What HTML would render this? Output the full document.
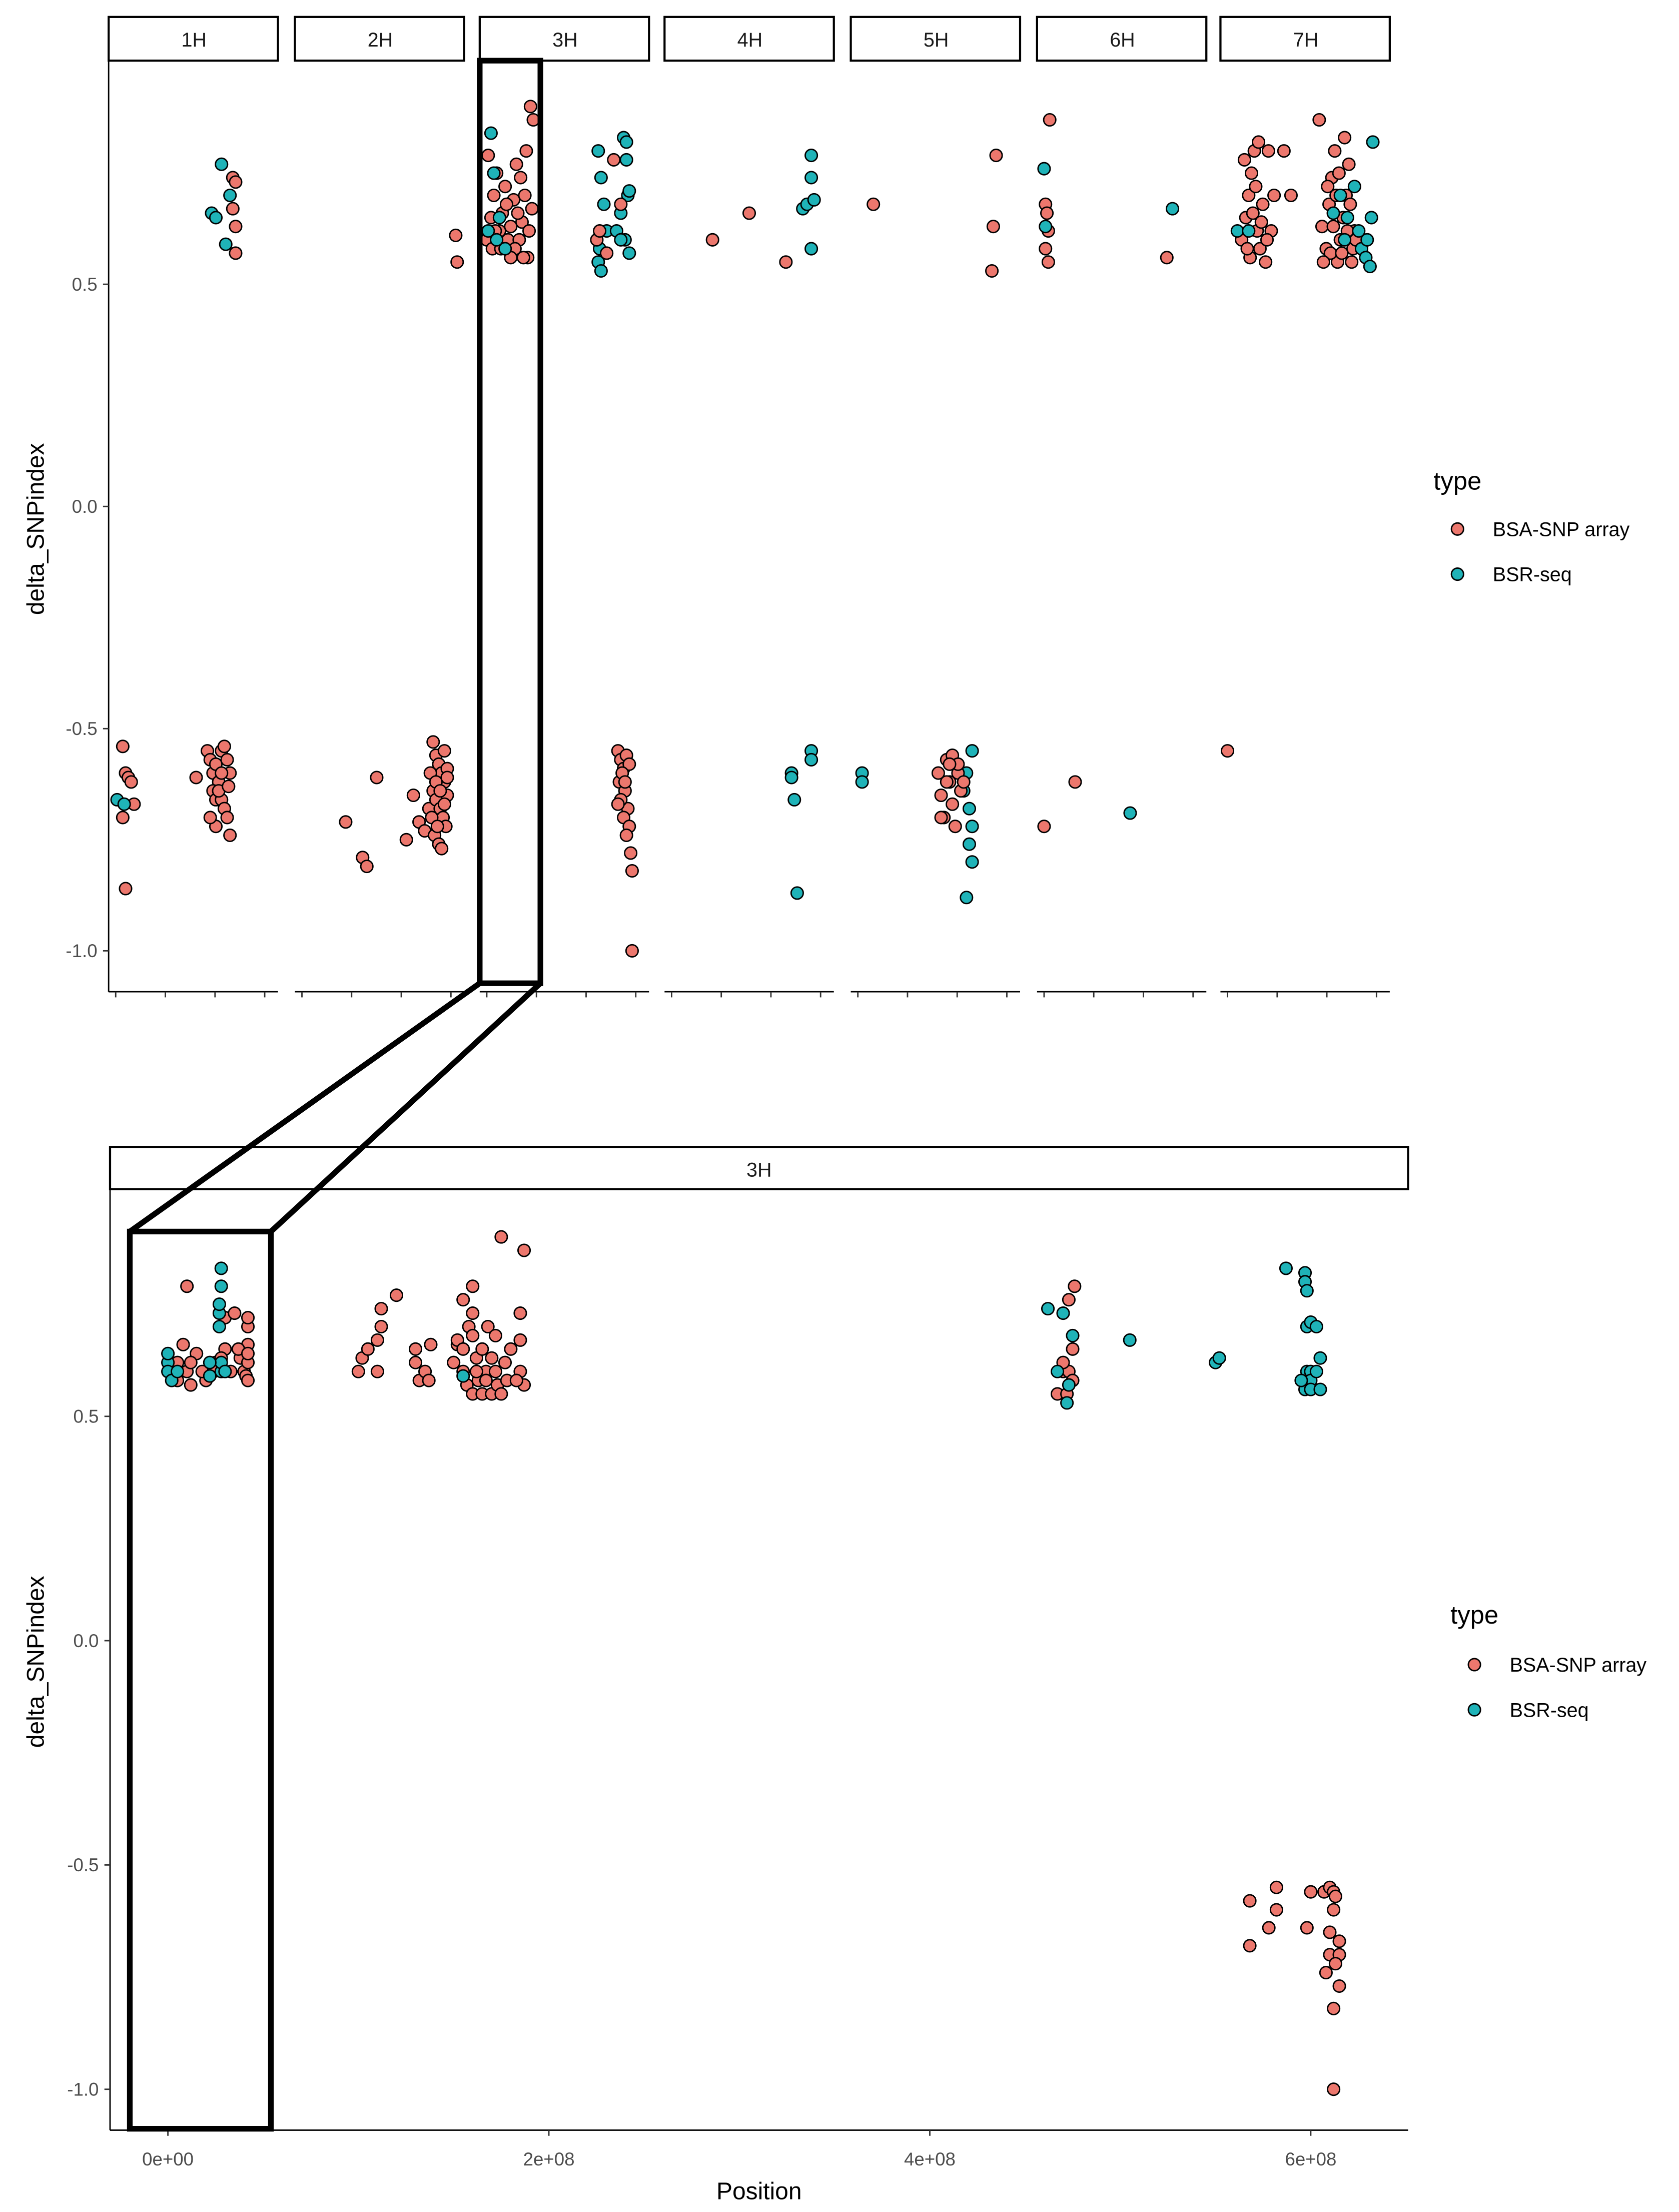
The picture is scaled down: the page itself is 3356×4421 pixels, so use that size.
<!DOCTYPE html>
<html><head><meta charset="utf-8">
<style>
html,body{margin:0;padding:0;background:#fff;}
svg{display:block;font-family:"Liberation Sans",sans-serif;}
</style></head>
<body>
<svg id="chart" width="3356" height="4421" viewBox="0 0 1190 1568" preserveAspectRatio="none" xmlns="http://www.w3.org/2000/svg">
<g id="top"></g>
<g id="bottom"></g>
<g id="overlay"></g>
</svg>
<script>
// ---- data ----
const chromosomes = ["1H","2H","3H","4H","5H","6H","7H"];
const typeLabels = ["BSA-SNP array","BSR-seq"];
const yTicks = [0.5,0.0,-0.5,-1.0];
const yTickLabels = ["0.5","0.0","-0.5","-1.0"];
const xTicksBottom = [0,2e8,4e8,6e8];
const xTickLabelsBottom = ["0e+00","2e+08","4e+08","6e+08"];
// top facets: [position index (0-120), delta, type 0=array 1=seq]
const top1H = [[10,-0.54,0],[12,-0.6,0],[14,-0.61,0],[16,-0.62,0],[18,-0.67,0],[10,-0.7,0],[12,-0.86,0],[6,-0.66,1],[11,-0.67,1],
[62,-0.61,0],[70,-0.55,0],[72,-0.57,0],[74,-0.6,0],[76,-0.58,0],[78,-0.62,0],[80,-0.55,0],[82,-0.54,0],[84,-0.57,0],[86,-0.6,0],[74,-0.64,0],[76,-0.66,0],[80,-0.66,0],[82,-0.68,0],[84,-0.7,0],[76,-0.72,0],[86,-0.74,0],[72,-0.7,0],[78,-0.64,0],[80,-0.6,0],[85,-0.63,0],
[88,0.74,0],[90,0.73,0],[88,0.67,0],[90,0.63,0],[90,0.57,0],[73,0.66,1],[76,0.65,1],[80,0.77,1],[86,0.7,1],[83,0.59,1]];
const top2H = [[36,-0.71,0],[48,-0.79,0],[51,-0.81,0],[58,-0.61,0],[79,-0.75,0],[84,-0.65,0],[88,-0.71,0],[92,-0.73,0],[95,-0.68,0],
[98,-0.53,0],[100,-0.56,0],[102,-0.58,0],[104,-0.6,0],[106,-0.62,0],[98,-0.64,0],[100,-0.66,0],[103,-0.68,0],[105,-0.7,0],[107,-0.72,0],[99,-0.74,0],[102,-0.76,0],[104,-0.77,0],[106,-0.55,0],[108,-0.59,0],[96,-0.6,0],[108,-0.65,0],[100,-0.62,0],[103,-0.64,0],[106,-0.67,0],[97,-0.7,0],[101,-0.72,0],[108,-0.61,0],[114,0.61,0],[115,0.55,0]];
const top3H = [[5,0.6,0],[8,0.65,0],[10,0.7,0],[12,0.75,0],[14,0.62,0],[6,0.79,0],[9,0.58,0],[16,0.66,0],[18,0.72,0],[20,0.6,0],[22,0.63,0],[24,0.69,0],[26,0.77,0],[28,0.6,0],[30,0.64,0],[32,0.7,0],[34,0.56,0],[36,0.9,0],[38,0.87,0],[33,0.8,0],[29,0.74,0],[25,0.58,0],[31,0.56,0],[35,0.62,0],[37,0.67,0],[22,0.56,0],[27,0.66,0],[15,0.58,0],[11,0.62,0],[19,0.68,0],
[8,0.84,1],[10,0.75,1],[6,0.62,1],[12,0.6,1],[14,0.65,1],[18,0.58,1],
[84,0.8,1],[86,0.74,1],[88,0.68,1],[90,0.62,1],[84,0.55,1],[85,0.58,1],[97,0.62,1],[100,0.66,1],[102,0.83,1],[104,0.82,1],[104,0.78,1],[105,0.7,1],[106,0.71,1],[103,0.6,1],[106,0.57,1],[100,0.6,1],[86,0.53,1],
[83,0.6,0],[85,0.62,0],[90,0.57,0],[95,0.78,0],[100,0.68,0],
[98,-0.55,0],[100,-0.57,0],[102,-0.59,0],[104,-0.56,0],[106,-0.58,0],[99,-0.62,0],[101,-0.6,0],[103,-0.64,0],[105,-0.68,0],[100,-0.66,0],[102,-0.7,0],[106,-0.72,0],[104,-0.74,0],[107,-0.78,0],[108,-0.82,0],[108,-1.0,0],[103,-0.62,0],[98,-0.67,0]];
const top4H = [[34,0.6,0],[60,0.66,0],[86,0.55,0],[90,-0.6,1],[92,-0.66,1],[94,-0.87,1],[104,-0.55,1],[104,-0.57,1],[98,0.67,1],[101,0.68,1],[104,0.58,1],[104,0.74,1],[104,0.79,1],[106,0.69,1],[90,-0.61,1]];
const top5H = [[8,-0.6,1],[8,-0.62,1],[86,-0.55,1],[82,-0.88,1],[86,-0.8,1],[84,-0.76,1],[86,-0.72,1],[84,-0.68,1],[80,-0.64,1],[82,-0.6,1],
[16,0.68,0],[62,-0.6,0],[64,-0.65,0],[66,-0.7,0],[68,-0.57,0],[70,-0.62,0],[72,-0.67,0],[74,-0.72,0],[76,-0.6,0],[78,-0.64,0],[72,-0.56,0],[76,-0.58,0],[64,-0.7,0],[68,-0.62,0],[80,-0.62,0],[70,-0.58,0],[103,0.79,0],[101,0.63,0],[100,0.53,0]];
const top6H = [[5,-0.72,0],[27,-0.62,0],[9,0.87,0],[6,0.68,0],[7,0.66,0],[8,0.62,0],[6,0.58,0],[8,0.55,0],[92,0.56,0],[5,0.76,1],[6,0.63,1],[66,-0.69,1],[96,0.67,1]];
const top7H = [[5,-0.55,0],[15,0.6,0],[18,0.65,0],[20,0.7,0],[22,0.75,0],[24,0.8,0],[26,0.62,0],[28,0.58,0],[30,0.68,0],[32,0.55,0],[34,0.8,0],[36,0.62,0],[38,0.7,0],[17,0.78,0],[21,0.56,0],[25,0.72,0],[29,0.64,0],[33,0.6,0],[23,0.66,0],[27,0.82,0],[19,0.58,0],[45,0.8,0],[50,0.7,0],[70,0.87,0],[72,0.63,0],[75,0.58,0],[77,0.68,0],[79,0.74,0],[81,0.8,0],[83,0.55,0],[85,0.6,0],[87,0.65,0],[89,0.7,0],[91,0.77,0],[93,0.55,0],[95,0.62,0],[78,0.57,0],[80,0.63,0],[82,0.7,0],[84,0.75,0],[86,0.57,0],[88,0.83,0],[90,0.62,0],[92,0.68,0],[76,0.72,0],[94,0.58,0],[73,0.55,0],[96,0.6,0],
[12,0.62,1],[20,0.62,1],[80,0.66,1],[85,0.7,1],[90,0.65,1],[95,0.72,1],[100,0.58,1],[103,0.56,1],[104,0.6,1],[106,0.54,1],[107,0.65,1],[108,0.82,1],[98,0.62,1],[88,0.6,1]];
const topFacets = [top1H,top2H,top3H,top4H,top5H,top6H,top7H];
// bottom 3H: [position (x1e8), delta, type]
const bottom3H = [[0.1,0.79,0],[0.05,0.62,0],[0.08,0.66,0],[0.1,0.6,0],[0.12,0.57,0],[0.15,0.64,0],[0.2,0.6,0],[0.25,0.62,0],[0.3,0.72,0],[0.3,0.65,0],[0.33,0.6,0],[0.35,0.73,0],[0.28,0.63,0],[0.38,0.63,0],[0.4,0.6,0],[0.42,0.66,0],[0.2,0.58,0],[0.42,0.62,0],[0.05,0.58,0],[0.42,0.7,0],[0.18,0.6,0],[0.37,0.65,0],[0.24,0.6,0],[0.42,0.64,0],[0.42,0.72,0],[0.12,0.62,0],[0.41,0.59,0],[0.42,0.58,0],
[0.0,0.62,1],[0.0,0.6,1],[0.0,0.64,1],[0.02,0.58,1],[0.05,0.6,1],[0.28,0.6,1],[0.28,0.62,1],[0.27,0.7,1],[0.27,0.73,1],[0.27,0.75,1],[0.28,0.79,1],[0.28,0.83,1],[0.3,0.6,1],[0.22,0.62,1],[0.22,0.59,1],
[1.0,0.6,0],[1.02,0.63,0],[1.05,0.65,0],[1.1,0.6,0],[1.1,0.67,0],[1.12,0.7,0],[1.12,0.74,0],[1.2,0.77,0],[1.3,0.62,0],[1.3,0.65,0],[1.32,0.58,0],[1.35,0.6,0],[1.37,0.58,0],[1.38,0.66,0],[1.5,0.62,0],[1.52,0.66,0],[1.52,0.67,0],[1.55,0.76,0],[1.58,0.7,0],[1.6,0.79,0],[1.6,0.73,0],[1.55,0.6,0],[1.57,0.57,0],[1.6,0.55,0],[1.62,0.63,0],[1.63,0.58,0],[1.65,0.55,0],[1.65,0.65,0],[1.67,0.6,0],[1.68,0.7,0],[1.7,0.55,0],[1.72,0.6,0],[1.72,0.68,0],[1.73,0.57,0],[1.75,0.9,0],[1.75,0.55,0],[1.77,0.62,0],[1.78,0.58,0],[1.8,0.65,0],[1.6,0.68,0],[1.85,0.6,0],[1.85,0.73,0],[1.85,0.67,0],[1.87,0.57,0],[1.87,0.87,0],[1.83,0.58,0],[1.7,0.63,0],[1.67,0.58,0],[1.62,0.6,0],[1.55,0.65,0],[1.55,0.59,1],
[4.67,0.55,0],[4.7,0.6,0],[4.73,0.6,0],[4.75,0.65,0],[4.76,0.79,0],[4.73,0.76,0],[4.75,0.58,0],[4.7,0.62,0],[4.72,0.55,0],
[4.62,0.74,1],[4.67,0.6,1],[4.7,0.73,1],[4.75,0.68,1],[4.73,0.57,1],[4.72,0.53,1],[5.05,0.67,1],[5.5,0.62,1],[5.52,0.63,1],
[5.87,0.83,1],[5.97,0.82,1],[5.97,0.8,1],[5.98,0.78,1],[5.98,0.7,1],[6.0,0.71,1],[6.03,0.7,1],[5.98,0.6,1],[6.0,0.6,1],[6.0,0.58,1],[6.03,0.6,1],[6.05,0.63,1],[5.97,0.56,1],[6.0,0.56,1],[6.05,0.56,1],[5.95,0.58,1],
[5.68,-0.58,0],[5.68,-0.68,0],[5.78,-0.64,0],[5.82,-0.55,0],[5.82,-0.6,0],[5.98,-0.64,0],[6.0,-0.56,0],[6.07,-0.56,0],[6.1,-0.55,0],[6.12,-0.56,0],[6.12,-0.6,0],[6.13,-0.57,0],[6.1,-0.65,0],[6.15,-0.67,0],[6.1,-0.7,0],[6.15,-0.7,0],[6.08,-0.74,0],[6.15,-0.77,0],[6.12,-0.82,0],[6.12,-1.0,0],[6.13,-0.72,0]];

// ---- helpers ----
const NS="http://www.w3.org/2000/svg";
const COLORS=["#EC776D","#1FB3B8"];
function mk(tag,attrs,parent){const e=document.createElementNS(NS,tag);for(const k in attrs)e.setAttribute(k,attrs[k]);parent.appendChild(e);return e;}
const topG=document.getElementById('top'),botG=document.getElementById('bottom'),ovG=document.getElementById('overlay');

const yTop=v=>359-v*315;
const yBot=v=>1163-v*318;
const facetLeft=[77,209,340,471,603,735,865];
const facetW=121;
const xTopF=(i,p)=>facetLeft[i]+p*(facetW/121);
const xBot=p=>119+p*135/1e8;

// ---- top panel ----
mk('line',{x1:77,y1:43,x2:77,y2:703,stroke:'#000','stroke-width':1},topG);
yTicks.forEach((t,i)=>{
  const y=yTop(t);
  const tk=mk('line',{x1:73,y1:y,x2:77,y2:y,stroke:'#333'},topG);
  
  const tx=mk('text',{x:69,y:y+4.5,'text-anchor':'end','font-size':13,fill:'#4d4d4d'},topG);
  tx.textContent=yTickLabels[i];
  
  
});
const yt=mk('text',{x:31,y:375,'text-anchor':'middle','font-size':17,fill:'#000',transform:'rotate(-90 31 375)'},topG);
yt.textContent='delta_SNPindex';

chromosomes.forEach((c,i)=>{
  const l=facetLeft[i];
  const r=mk('rect',{x:l,y:12,width:facetW-1,height:31,fill:'#fff',stroke:'#000','stroke-width':1.5},topG);
  
  const t=mk('text',{x:l+facetW/2,y:33,'text-anchor':'middle','font-size':14,fill:'#1a1a1a'},topG);
  t.textContent=c;
  
  const ax=mk('line',{x1:l,y1:703,x2:l+facetW-1,y2:703,stroke:'#000'},topG);
  
  [0,1,2,3].forEach(k=>{
    const x=l+5+k*35.2;
    const tk=mk('line',{x1:x,y1:703,x2:x,y2:707,stroke:'#333'},topG);
    
  });
  topFacets[i].forEach(d=>{
    const p=mk('circle',{cx:xTopF(i,d[0]),cy:yTop(d[1]),r:4.3,fill:COLORS[d[2]],stroke:'#000','stroke-width':1},topG);
    
    
  });
});
function legend(g,tx,ty,dx,dy1,dy2){
  const t=mk('text',{x:tx,y:ty,'font-size':18,fill:'#000'},g);t.textContent='type';
  
  [dy1,dy2].forEach((y,i)=>{
    const c=mk('circle',{cx:dx,cy:y,r:4.3,fill:COLORS[i],stroke:'#000','stroke-width':1},g);
    
    const l=mk('text',{x:dx+25,y:y+5,'font-size':14,fill:'#000'},g);l.textContent=typeLabels[i];
    
    
  });
}
legend(topG,1016,347,1033,375,407);

// ---- bottom panel ----
mk('line',{x1:78,y1:843,x2:78,y2:1510,stroke:'#000'},botG);
mk('line',{x1:78,y1:1510,x2:998,y2:1510,stroke:'#000'},botG);
const st=mk('rect',{x:78,y:813,width:920,height:30,fill:'#fff',stroke:'#000','stroke-width':1.5},botG);

const stt=mk('text',{x:538,y:834,'text-anchor':'middle','font-size':14,fill:'#1a1a1a'},botG);
stt.textContent='3H';

yTicks.forEach((t,i)=>{
  const y=yBot(t);
  mk('line',{x1:74,y1:y,x2:78,y2:y,stroke:'#333'},botG);
  const tx=mk('text',{x:70,y:y+4.5,'text-anchor':'end','font-size':13,fill:'#4d4d4d'},botG);
  tx.textContent=yTickLabels[i];
  
});
xTicksBottom.forEach((t,i)=>{
  const x=xBot(t);
  mk('line',{x1:x,y1:1510,x2:x,y2:1514,stroke:'#333'},botG);
  const tx=mk('text',{x:x,y:1535,'text-anchor':'middle','font-size':13,fill:'#4d4d4d'},botG);
  tx.textContent=xTickLabelsBottom[i];
  
});
const xt=mk('text',{x:538,y:1559,'text-anchor':'middle','font-size':17,fill:'#000'},botG);
xt.textContent='Position';

const yb=mk('text',{x:31,y:1178,'text-anchor':'middle','font-size':17,fill:'#000',transform:'rotate(-90 31 1178)'},botG);
yb.textContent='delta_SNPindex';

bottom3H.forEach(d=>{
  const p=mk('circle',{cx:xBot(d[0]*1e8),cy:yBot(d[1]),r:4.3,fill:COLORS[d[2]],stroke:'#000','stroke-width':1},botG);
  
  
});
legend(botG,1028,1151,1045,1180,1212);

// ---- overlay ----
const o1=mk('rect',{x:340,y:43,width:43,height:654,fill:'none',stroke:'#000','stroke-width':4},ovG);

const o2=mk('polyline',{points:'340,697 92,873',fill:'none',stroke:'#000','stroke-width':4},ovG);

const o3=mk('polyline',{points:'383,697 192,873',fill:'none',stroke:'#000','stroke-width':4},ovG);

const o4=mk('rect',{x:92,y:873,width:100,height:636,fill:'none',stroke:'#000','stroke-width':4},ovG);

</script>
</body></html>
